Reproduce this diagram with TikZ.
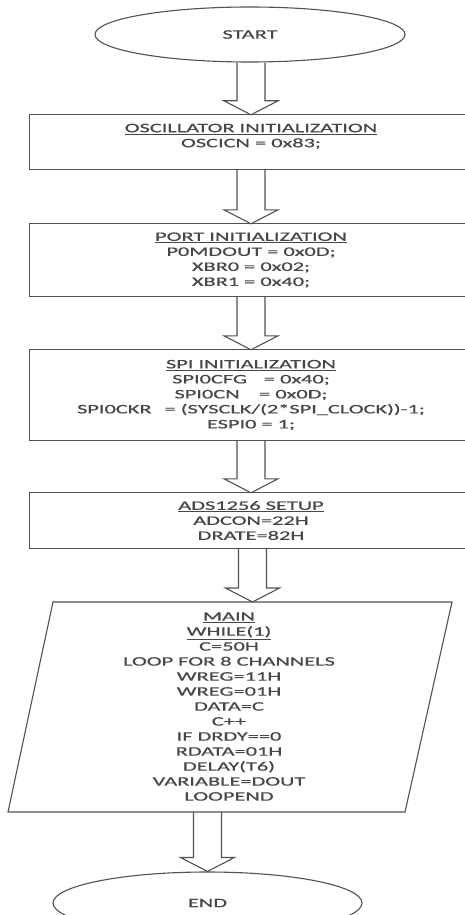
\documentclass[tikz,border=0pt]{standalone}
\usepackage{fontspec}
\setmainfont{Carlito}[FakeStretch=1.72,FakeBold=0.6]
\usetikzlibrary{calc,shapes.geometric}
\tikzset{
  ln/.style={draw=black!68,line width=1.1pt},
  txt/.style={text=black!72,font=\fontsize{13}{15}\selectfont,align=center,inner sep=0pt},
  stepbox/.style={txt,rectangle,minimum width=442pt},
  term/.style={ln,txt,ellipse,inner sep=0pt},
  blk/.style={draw=black!68,line width=1.1pt,line join=miter},
}
\newcommand\myblockarrow[2]{%
  \coordinate (ba-s) at (#1);
  \coordinate (ba-t) at (#2);
  \coordinate (ba-l) at ($(ba-t)+(-14,0)$);
  \coordinate (ba-r) at ($(ba-t)+(14,0)$);
  \draw[blk] (ba-l |- ba-s) -- ($(ba-t)+(-14,-14)$) -- ($(ba-t)+(-27,-14)$)
    -- (ba-t) -- ($(ba-t)+(27,-14)$) -- ($(ba-t)+(14,-14)$) -- (ba-r |- ba-s);}
\newcommand\myboxframe[1]{%
  \draw[ln] ($(#1.south east)+(20,0)$) -- (#1.south west) -- (#1.north west) -- ($(#1.north east)+(20,0)$);}
\begin{document}
\begin{tikzpicture}[x=1pt,y=-1pt]
\useasboundingbox[fill=white] (0,0) rectangle (465,915);
\node[term,minimum width=310pt,minimum height=55pt] (start) at (250,34.5) {START};
\node[stepbox,minimum height=54pt] (osc) at (251,142) {\underline{OSCILLATOR INITIALIZATION}\\OSCICN = 0x83;\\[-2pt]\mbox{}};
\node[stepbox,minimum height=72pt] (port) at (251,260) {\underline{PORT INITIALIZATION}\\P0MDOUT = 0x0D;\\XBR0 = 0x02;\\XBR1 = 0x40;};
\node[stepbox,minimum height=90pt] (spi) at (251,395) {\underline{SPI INITIALIZATION}\\SPI0CFG\hspace{1.3em}= 0x40;\\SPI0CN\hspace{1.5em}= 0x0D;\\SPI0CKR\hspace{1em}= (SYSCLK/(2*SPI\_CLOCK))-1;\\ESPI0 = 1;};
\node[stepbox,minimum height=55pt] (ads) at (251,520.5) {\underline{ADS1256 SETUP}\\ADCON=22H\\DRATE=82H};
\myboxframe{osc}
\myboxframe{port}
\myboxframe{spi}
\myboxframe{ads}
\coordinate (p1) at (53,602);
\coordinate (p2) at (452,602);
\coordinate (p3) at (405,812);
\coordinate (p4) at (8,812);
\coordinate (mtop) at (252.5,602);
\coordinate (mbot) at (206.5,812);
\draw[ln,line join=miter] (p1) -- (p2) -- (p3) -- (p4) -- cycle;
\node[txt] (main) at (229,706.5) {\underline{MAIN}\\\underline{WHILE(1)}\\C=50H\\LOOP FOR 8 CHANNELS\\WREG=11H\\WREG=01H\\DATA=C\\C++\\IF DRDY==0\\RDATA=01H\\DELAY(T6)\\VARIABLE=DOUT\\LOOPEND};
\node[term,minimum width=309pt,minimum height=62pt] (end) at (207.5,903) {END};
\myblockarrow{start.south}{osc.north}
\myblockarrow{osc.south}{port.north}
\myblockarrow{port.south}{spi.north}
\myblockarrow{spi.south}{ads.north}
\myblockarrow{ads.south}{mtop}
\myblockarrow{mbot}{end.north}
\end{tikzpicture}
\end{document}
